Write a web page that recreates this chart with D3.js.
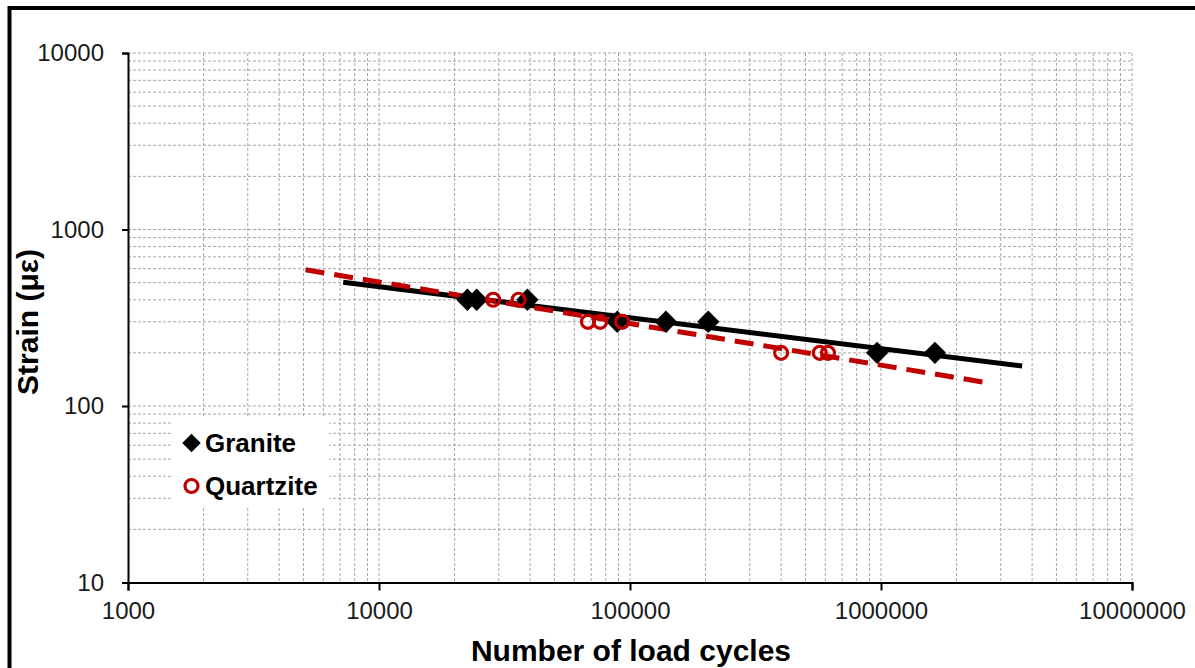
<!DOCTYPE html>
<html>
<head>
<meta charset="utf-8">
<script src="https://cdn.jsdelivr.net/npm/d3@7"></script>
<style>
  body { margin: 0; background: #fff; }
  svg { display: block; font-family: "Liberation Sans", Arial, sans-serif; }
</style>
</head>
<body>
<div id="chart"></div>
<script>
// values
const graniteCycles = [22500, 24500, 39000, 89000, 139000, 205000, 965000, 1640000];
const graniteStrain = [400, 400, 400, 300, 300, 300, 200, 200];
const quartziteCycles = [28500, 36000, 68000, 76000, 93000, 400000, 570000, 615000];
const quartziteStrain = [400, 400, 300, 300, 300, 200, 200, 200];
// x span the excel trendlines cover
const graniteTrendSpan = [7200, 3650000];
const quartziteTrendSpan = [5100, 2650000];
const xTicks = [1000, 10000, 100000, 1000000, 10000000];
const yTicks = [10, 100, 1000, 10000];

const width = 1195, height = 668;
const plotL = 128, plotR = 1132, plotT = 53, plotB = 582.5;

const svg = d3.select("#chart").append("svg")
  .attr("width", width).attr("height", height);

// outer frame (cut off at right / bottom)
svg.append("rect")
  .attr("x", 9.5).attr("y", 8)
  .attr("width", 1300).attr("height", 800)
  .attr("fill", "#fff").attr("stroke", "#000").attr("stroke-width", 4);

const x = d3.scaleLog().domain([1000, 10000000]).range([plotL, plotR]);
const y = d3.scaleLog().domain([10, 10000]).range([plotB, plotT]);

// minor + major grid, all dashed
function gridVals(lo, hi) {
  const out = [];
  for (let d = lo; d < hi; d *= 10) {
    for (let k = 1; k <= 9; k++) out.push(k * d);
  }
  out.push(hi);
  return out;
}
const grid = svg.append("g").attr("stroke", "#a6a6a6").attr("stroke-width", 1)
  .attr("stroke-dasharray", "3,2");
grid.selectAll(".gx").data(gridVals(1000, 10000000).slice(1)).join("line")
  .attr("x1", d => x(d)).attr("x2", d => x(d))
  .attr("y1", plotT).attr("y2", plotB);
grid.selectAll(".gy").data(gridVals(10, 10000).slice(1)).join("line")
  .attr("y1", d => y(d)).attr("y2", d => y(d))
  .attr("x1", plotL).attr("x2", plotR);

// axes
const xAxis = svg.append("g").attr("transform", `translate(0,${plotB})`)
  .call(d3.axisBottom(x).tickValues(xTicks).tickFormat(d3.format("d")).tickSizeOuter(0).tickSize(8).tickPadding(12));
const yAxis = svg.append("g").attr("transform", `translate(${plotL},0)`)
  .call(d3.axisLeft(y).tickValues(yTicks).tickFormat(d3.format("d")).tickSizeOuter(0).tickSize(6).tickPadding(18));
[xAxis, yAxis].forEach(a => {
  a.select(".domain").attr("stroke", "#000").attr("stroke-width", 2);
  a.selectAll(".tick line").attr("stroke", "#000").attr("stroke-width", 2);
  a.selectAll(".tick text").attr("fill", "#1a1a1a")
    .style("font-size", "24px").style("font-family", "'Liberation Sans', Arial, sans-serif");
});
xAxis.selectAll(".tick text").attr("dy", "0.7em");

// power trendline fitted in log space
function powerFit(xs, ys) {
  const lx = xs.map(Math.log10), ly = ys.map(Math.log10);
  const mx = d3.mean(lx), my = d3.mean(ly);
  const b = d3.sum(lx, (v, i) => (v - mx) * (ly[i] - my)) / d3.sum(lx, v => (v - mx) ** 2);
  const a = my - b * mx;
  return v => Math.pow(10, a + b * Math.log10(v));
}
const line = d3.line().x(d => x(d[0])).y(d => y(d[1]));
const gFit = powerFit(graniteCycles, graniteStrain);
const qFit = powerFit(quartziteCycles, quartziteStrain);

svg.append("path")
  .attr("d", line(graniteTrendSpan.map(v => [v, gFit(v)])))
  .attr("fill", "none").attr("stroke", "#000").attr("stroke-width", 5);
svg.append("path")
  .attr("d", line(quartziteTrendSpan.map(v => [v, qFit(v)])))
  .attr("fill", "none").attr("stroke", "#c00000").attr("stroke-width", 5)
  .attr("stroke-dasharray", "19,10");

// markers
const diamond = d3.symbol().type(d3.symbolSquare).size(250);
svg.selectAll(".granite").data(graniteCycles).join("path")
  .attr("d", diamond)
  .attr("transform", (d, i) => `translate(${x(d)},${y(graniteStrain[i])}) rotate(45)`)
  .attr("fill", "#000");
svg.selectAll(".quartzite").data(quartziteCycles).join("circle")
  .attr("cx", d => x(d)).attr("cy", (d, i) => y(quartziteStrain[i]))
  .attr("r", 6.5).attr("fill", "none").attr("stroke", "#c00000").attr("stroke-width", 3.2);

// legend
const lg = svg.append("g");
lg.append("rect").attr("x", 172).attr("y", 416).attr("width", 157).attr("height", 91).attr("fill", "#fff");
lg.append("path").attr("d", d3.symbol().type(d3.symbolSquare).size(170))
  .attr("transform", "translate(191.5,443) rotate(45)").attr("fill", "#000");
lg.append("circle").attr("cx", 191.5).attr("cy", 486).attr("r", 6.5)
  .attr("fill", "none").attr("stroke", "#c00000").attr("stroke-width", 3.2);
lg.append("text").attr("x", 205).attr("y", 452).text("Granite")
  .style("font-size", "26px").style("font-weight", "bold");
lg.append("text").attr("x", 205).attr("y", 495).text("Quartzite")
  .style("font-size", "26px").style("font-weight", "bold");

// axis titles
svg.append("text").attr("x", 631).attr("y", 661).attr("text-anchor", "middle")
  .style("font-size", "30px").style("font-weight", "bold").text("Number of load cycles");
svg.append("text").attr("transform", "translate(38,322) rotate(-90)").attr("text-anchor", "middle")
  .style("font-size", "30px").style("font-weight", "bold").text("Strain (με)");
</script>
</body>
</html>
